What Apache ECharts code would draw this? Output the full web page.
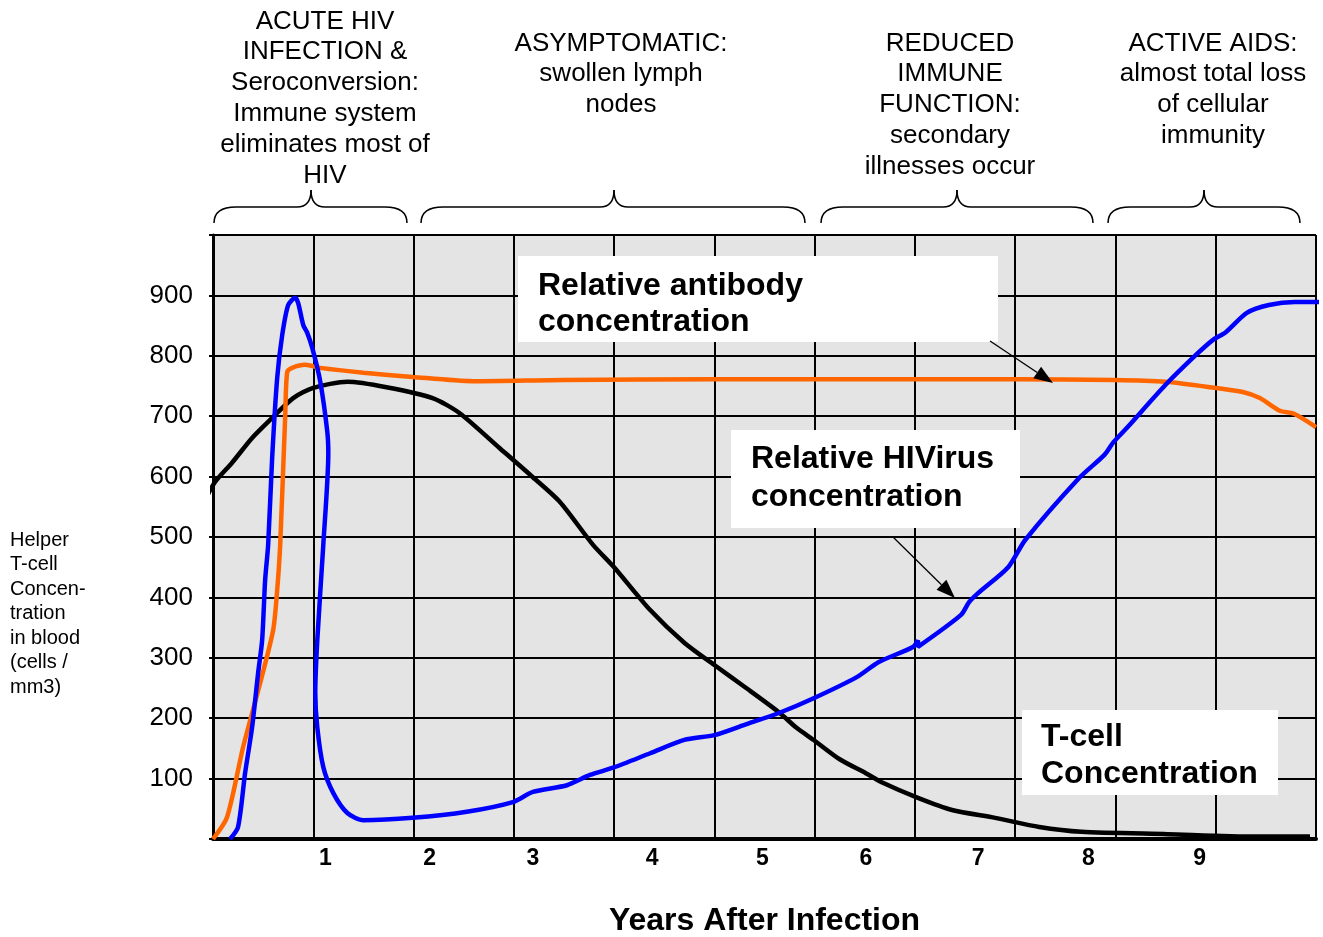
<!DOCTYPE html>
<html>
<head>
<meta charset="utf-8">
<script src="https://cdn.jsdelivr.net/npm/echarts@6/dist/echarts.min.js"></script>
<style>
  html,body{margin:0;padding:0;background:#fff;}
  #hivChart{width:1323px;height:937px;}
</style>
</head>
<body>
<div id="hivChart"></div>
<script>
// x is in grid units (one unit = one grid column), y is cells / mm3
var tickPos = [1.12, 2.16, 3.19, 4.38, 5.48, 6.51, 7.63, 8.73, 9.84];
var tickLabels = ['1', '2', '3', '4', '5', '6', '7', '8', '9'];

var tCell = [[-0.08,561],[0.02,591],[0.19,623],[0.39,664],[0.57,694],[0.80,730],[1.0,747],[1.34,757],
  [1.73,748],[2.19,730],[2.46,705],[2.86,647],[3.19,599],[3.46,558],[3.79,487],[4.0,450],[4.36,379],
  [4.70,325],[5.0,288],[5.30,252],[5.65,209],[5.82,184],[5.99,164],[6.25,132],[6.51,109],[6.68,93],
  [7.03,68],[7.37,48],[7.80,35],[8.24,20],[8.66,12],[9.52,8],[10.38,4],[10.94,4]];

var antibody = [[0,0],[0.14,36],[0.30,152],[0.47,258],[0.60,346],[0.64,412],[0.67,487],[0.72,700],
  [0.74,773],[0.79,780],[0.92,785],[1.07,780],[1.5,772],[1.99,765],[2.59,758],[3.5,760],[5,761],
  [6.5,761],[8,761],[8.99,760],[9.5,757],[9.99,747],[10.27,740],[10.44,730],[10.64,709],[10.78,704],[11.0,682]];

var virus = [[0.17,0],[0.25,20],[0.32,109],[0.39,185],[0.45,275],[0.49,329],[0.52,429],[0.55,487],
  [0.59,631],[0.64,763],[0.69,834],[0.75,884],[0.82,896],[0.85,887],[0.90,851],[0.94,838],[0.99,813],
  [1.07,757],[1.14,674],[1.15,639],[1.10,487],[1.04,329],[1.02,242],[1.04,185],[1.10,119],[1.20,76],
  [1.34,43],[1.50,31],[1.99,35],[2.53,45],[2.99,61],[3.19,78],[3.53,89],[3.76,106],[3.99,118],
  [4.36,142],[4.70,164],[5.00,172],[5.30,189],[5.65,209],[5.99,233],[6.42,268],[6.64,293],[6.98,318],
  [7.03,329],[7.03,318],[7.46,371],[7.54,392],[7.63,407],[7.93,450],[8.10,495],[8.64,598],[8.89,636],
  [8.98,657],[9.11,680],[9.50,752],[9.80,801],[9.97,826],[10.10,839],[10.31,871],[10.53,884],
  [10.79,889],[11.04,889]];

var phases = [
  'ACUTE HIV\nINFECTION &\nSeroconversion:\nImmune system\neliminates most of\nHIV',
  'ASYMPTOMATIC:\nswollen lymph\nnodes',
  'REDUCED\nIMMUNE\nFUNCTION:\nsecondary\nillnesses occur',
  'ACTIVE AIDS:\nalmost total loss\nof cellular\nimmunity'
];

var myChart = echarts.init(document.getElementById('hivChart'));
var FONT = '"Liberation Sans", Arial, sans-serif';
var braceStyle = {fill: null, stroke: '#000', lineWidth: 1.5};

// curly brace under a phase title, built from curves and lines
function brace(x1, xt, x2) {
  var yEnd = 223, yMid = 207, yTip = 190;
  function q(ax, ay, cx, cy, bx, by) {
    return {type: 'bezierCurve', shape: {x1: ax, y1: ay, cpx1: cx, cpy1: cy, x2: bx, y2: by}, style: braceStyle};
  }
  function l(ax, ay, bx, by) {
    return {type: 'line', shape: {x1: ax, y1: ay, x2: bx, y2: by}, style: braceStyle};
  }
  return [
    q(x1, yEnd, x1, yMid, x1 + 22, yMid),
    l(x1 + 22, yMid, xt - 14, yMid),
    q(xt - 14, yMid, xt, yMid, xt, yTip),
    q(xt, yTip, xt, yMid, xt + 14, yMid),
    l(xt + 14, yMid, x2 - 22, yMid),
    q(x2 - 22, yMid, x2, yMid, x2, yEnd)
  ];
}

function arrow(x1, y1, x2, y2) {
  var a = Math.atan2(y2 - y1, x2 - x1), L = 19, W = 7;
  var bx = x2 - L * Math.cos(a), by = y2 - L * Math.sin(a);
  return [{
    type: 'line', z: 100,
    shape: {x1: x1, y1: y1, x2: bx, y2: by},
    style: {stroke: '#000', lineWidth: 1.3}
  }, {
    type: 'polygon', z: 100,
    shape: {points: [[x2, y2], [bx + W * Math.sin(a), by - W * Math.cos(a)], [bx - W * Math.sin(a), by + W * Math.cos(a)]]},
    style: {fill: '#000'}
  }];
}

function box(x, y, w, h, tx, ty, lh, txt) {
  return [{
    type: 'rect', z: 100, shape: {x: x, y: y, width: w, height: h}, style: {fill: '#fff'}
  }, {
    type: 'text', z: 101,
    style: {x: tx, y: ty, text: txt, font: 'bold 32px ' + FONT, fill: '#000', lineHeight: lh, verticalAlign: 'top'}
  }];
}

var phaseText = function (cx, top, txt) {
  return {
    type: 'text',
    style: {x: cx, y: top, text: txt, font: '26px ' + FONT, fill: '#000', align: 'center', verticalAlign: 'top', lineHeight: 30.8}
  };
};

var graphics = [
  phaseText(325, 6, phases[0]),
  phaseText(621, 28, phases[1]),
  phaseText(950, 28, phases[2]),
  phaseText(1213, 28, phases[3]),
  {
    type: 'text',
    style: {x: 10, y: 528, text: 'Helper\nT-cell\nConcen-\ntration\nin blood\n(cells /\nmm3)',
      font: '20px ' + FONT, fill: '#000', lineHeight: 24.5, verticalAlign: 'top'}
  }
];
graphics = graphics
  .concat(brace(214, 311, 407))
  .concat(brace(421, 614, 805))
  .concat(brace(821, 957, 1093))
  .concat(brace(1108, 1204, 1300))
  .concat(box(518, 256, 480, 86, 538, 268, 36, 'Relative antibody\nconcentration'))
  .concat(box(731, 430, 289, 98, 751, 440, 38, 'Relative HIVirus\nconcentration'))
  .concat(box(1022, 710, 256, 85, 1041, 719, 37, 'T-cell\nConcentration'))
  .concat(arrow(990, 341, 1053, 383))
  .concat(arrow(893, 537, 955, 598));

var option = {
  animation: false,
  textStyle: {fontFamily: FONT},
  grid: {
    left: 213, right: 7, top: 235, bottom: 98, outerBoundsMode: 'none',
    show: true, backgroundColor: '#e4e4e4', borderWidth: 0
  },
  xAxis: {
    type: 'value', min: 0, max: 11, interval: 1,
    name: 'Years After Infection', nameLocation: 'middle', nameGap: 66,
    nameTextStyle: {fontSize: 32, fontWeight: 'bold', color: '#000'},
    axisLabel: {show: false},
    axisTick: {show: false},
    axisLine: {show: true, onZero: false, lineStyle: {color: '#000', width: 4}},
    splitLine: {show: true, lineStyle: {color: '#000', width: 2}}
  },
  yAxis: {
    type: 'value', min: 0, max: 1000, interval: 100,
    axisLine: {show: true, lineStyle: {color: '#000', width: 3}},
    axisTick: {show: true, length: 4, lineStyle: {color: '#000', width: 2}},
    axisLabel: {
      color: '#000', fontSize: 26, margin: 20, padding: [0, 0, 12, 0],
      formatter: function (v) { return (v === 0 || v === 1000) ? '' : v; }
    },
    splitLine: {show: true, lineStyle: {color: '#000', width: 2}}
  },
  series: [
    {
      name: 'T-cell', type: 'line', data: tCell, smooth: 0.25, symbol: 'none', clip: false,
      lineStyle: {color: '#000', width: 4.5}, z: 3
    },
    {
      name: 'Antibody', type: 'line', data: antibody, smooth: 0.25, symbol: 'none', clip: false,
      lineStyle: {color: '#ff6600', width: 4.5}, z: 4
    },
    {
      name: 'HIVirus', type: 'line', data: virus, smooth: 0.25, symbol: 'none', clip: false,
      lineStyle: {color: '#0000ff', width: 4.5}, z: 5
    },
    {
      // year labels under the axis
      name: 'years', type: 'scatter', silent: true, clip: false, z: 6,
      symbolSize: 0, itemStyle: {color: '#000'},
      data: tickPos.map(function (p, i) { return {value: [p, 0], name: tickLabels[i]}; }),
      label: {show: true, position: 'bottom', distance: 8, formatter: '{b}', color: '#000', opacity: 1,
        fontSize: 23, fontWeight: 'bold', fontFamily: FONT}
    }
  ],
  graphic: graphics
};

myChart.setOption(option);
</script>
</body>
</html>
